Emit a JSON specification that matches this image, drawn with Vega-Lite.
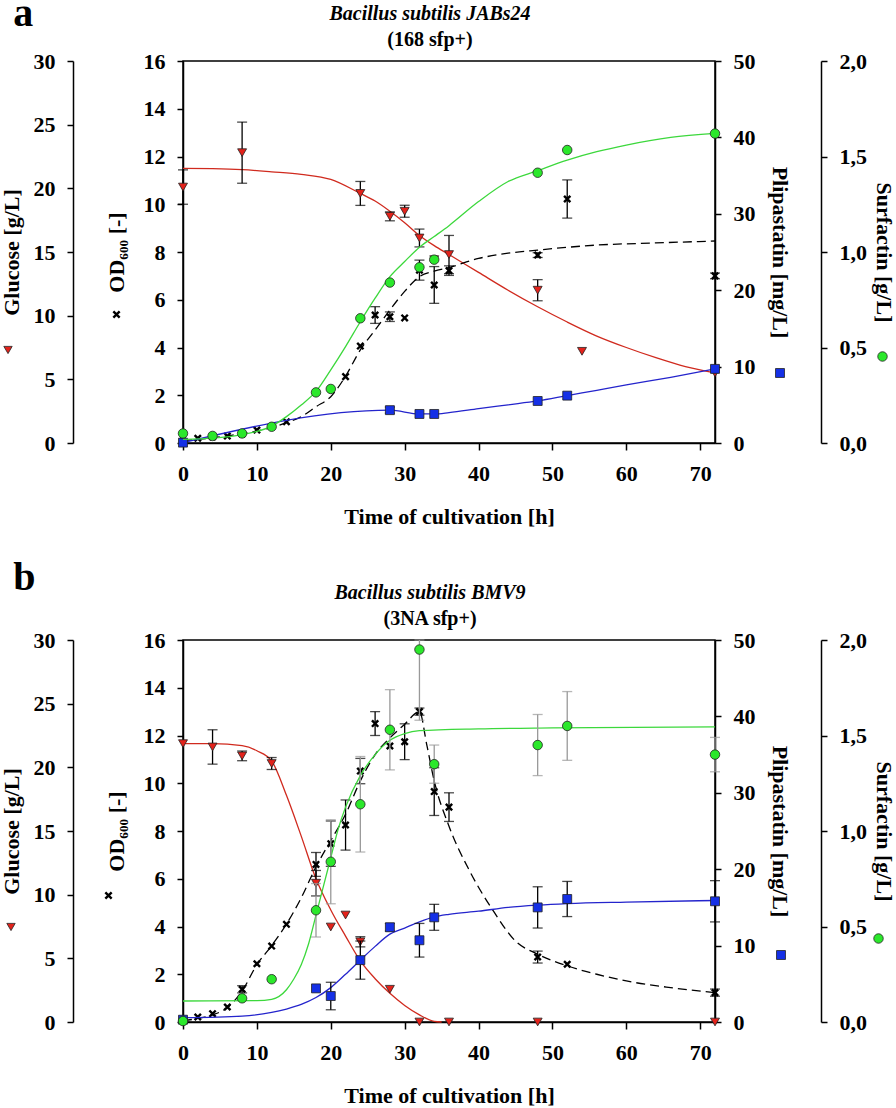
{
"$schema":"https://vega.github.io/schema/vega-lite/v6.json",
"padding":{"left":-1,"right":0,"top":-6,"bottom":0},
"data":{"name":"d"},
"datasets":{"d":[
{"p":"a","s":"G","k":"m","t":0,"v":20.1,"e":1.35},
{"p":"a","s":"G","k":"m","t":8,"v":22.8,"e":2.4},
{"p":"a","s":"G","k":"m","t":24,"v":19.6,"e":0.94},
{"p":"a","s":"G","k":"m","t":28,"v":17.8,"e":0.35},
{"p":"a","s":"G","k":"m","t":30,"v":18.2,"e":0.47},
{"p":"a","s":"G","k":"m","t":32,"v":16.1,"e":0.7},
{"p":"a","s":"G","k":"m","t":34,"v":14.4,"e":null},
{"p":"a","s":"G","k":"m","t":36,"v":14.8,"e":1.5},
{"p":"a","s":"G","k":"m","t":48,"v":12.0,"e":0.83},
{"p":"a","s":"G","k":"m","t":54,"v":7.2,"e":null},
{"p":"a","s":"G","k":"m","t":72,"v":5.5,"e":null},
{"p":"a","s":"O","k":"m","t":0,"v":0.08,"e":null},
{"p":"a","s":"O","k":"m","t":2,"v":0.2,"e":null},
{"p":"a","s":"O","k":"m","t":4,"v":0.25,"e":null},
{"p":"a","s":"O","k":"m","t":6,"v":0.29,"e":null},
{"p":"a","s":"O","k":"m","t":8,"v":0.38,"e":null},
{"p":"a","s":"O","k":"m","t":10,"v":0.54,"e":null},
{"p":"a","s":"O","k":"m","t":14,"v":0.89,"e":null},
{"p":"a","s":"O","k":"m","t":22,"v":2.78,"e":null},
{"p":"a","s":"O","k":"m","t":24,"v":4.06,"e":null},
{"p":"a","s":"O","k":"m","t":26,"v":5.36,"e":0.35},
{"p":"a","s":"O","k":"m","t":28,"v":5.29,"e":0.2},
{"p":"a","s":"O","k":"m","t":30,"v":5.24,"e":null},
{"p":"a","s":"O","k":"m","t":32,"v":7.24,"e":0.42},
{"p":"a","s":"O","k":"m","t":34,"v":6.62,"e":0.77},
{"p":"a","s":"O","k":"m","t":36,"v":7.22,"e":0.2},
{"p":"a","s":"O","k":"m","t":48,"v":7.87,"e":0.1},
{"p":"a","s":"O","k":"m","t":52,"v":10.22,"e":0.8},
{"p":"a","s":"O","k":"m","t":72,"v":7.0,"e":0.12},
{"p":"a","s":"P","k":"m","t":0,"v":0.05,"e":null},
{"p":"a","s":"P","k":"m","t":28,"v":4.3,"e":0.4},
{"p":"a","s":"P","k":"m","t":32,"v":3.8,"e":null},
{"p":"a","s":"P","k":"m","t":34,"v":3.8,"e":null},
{"p":"a","s":"P","k":"m","t":48,"v":5.5,"e":null},
{"p":"a","s":"P","k":"m","t":52,"v":6.2,"e":null},
{"p":"a","s":"P","k":"m","t":72,"v":9.7,"e":null},
{"p":"a","s":"S","k":"m","t":0,"v":0.05,"e":null},
{"p":"a","s":"S","k":"m","t":4,"v":0.037,"e":null},
{"p":"a","s":"S","k":"m","t":8,"v":0.05,"e":null},
{"p":"a","s":"S","k":"m","t":12,"v":0.085,"e":null},
{"p":"a","s":"S","k":"m","t":18,"v":0.265,"e":null},
{"p":"a","s":"S","k":"m","t":20,"v":0.283,"e":null},
{"p":"a","s":"S","k":"m","t":24,"v":0.653,"e":null},
{"p":"a","s":"S","k":"m","t":28,"v":0.84,"e":null},
{"p":"a","s":"S","k":"m","t":32,"v":0.92,"e":null},
{"p":"a","s":"S","k":"m","t":34,"v":0.96,"e":null},
{"p":"a","s":"S","k":"m","t":48,"v":1.415,"e":null},
{"p":"a","s":"S","k":"m","t":52,"v":1.534,"e":null},
{"p":"a","s":"S","k":"m","t":72,"v":1.62,"e":null},
{"p":"a","s":"G","k":"f","t":0,"v":21.56},
{"p":"a","s":"G","k":"f","t":4,"v":21.54},
{"p":"a","s":"G","k":"f","t":8,"v":21.47},
{"p":"a","s":"G","k":"f","t":12,"v":21.3},
{"p":"a","s":"G","k":"f","t":16,"v":21.1},
{"p":"a","s":"G","k":"f","t":20,"v":20.7},
{"p":"a","s":"G","k":"f","t":24,"v":19.6},
{"p":"a","s":"G","k":"f","t":26,"v":19.0},
{"p":"a","s":"G","k":"f","t":28,"v":18.2},
{"p":"a","s":"G","k":"f","t":30,"v":17.3},
{"p":"a","s":"G","k":"f","t":32,"v":16.3},
{"p":"a","s":"G","k":"f","t":34,"v":15.5},
{"p":"a","s":"G","k":"f","t":36,"v":14.8},
{"p":"a","s":"G","k":"f","t":40,"v":13.4},
{"p":"a","s":"G","k":"f","t":44,"v":12.0},
{"p":"a","s":"G","k":"f","t":48,"v":10.7},
{"p":"a","s":"G","k":"f","t":52,"v":9.5},
{"p":"a","s":"G","k":"f","t":56,"v":8.4},
{"p":"a","s":"G","k":"f","t":60,"v":7.5},
{"p":"a","s":"G","k":"f","t":64,"v":6.7},
{"p":"a","s":"G","k":"f","t":68,"v":6.0},
{"p":"a","s":"G","k":"f","t":72,"v":5.5},
{"p":"a","s":"O","k":"f","t":0,"v":0.1},
{"p":"a","s":"O","k":"f","t":2,"v":0.15},
{"p":"a","s":"O","k":"f","t":6,"v":0.3},
{"p":"a","s":"O","k":"f","t":10,"v":0.5},
{"p":"a","s":"O","k":"f","t":12,"v":0.65},
{"p":"a","s":"O","k":"f","t":14,"v":0.85},
{"p":"a","s":"O","k":"f","t":16,"v":1.1},
{"p":"a","s":"O","k":"f","t":18,"v":1.52},
{"p":"a","s":"O","k":"f","t":20,"v":1.94},
{"p":"a","s":"O","k":"f","t":22,"v":2.8},
{"p":"a","s":"O","k":"f","t":24,"v":3.9},
{"p":"a","s":"O","k":"f","t":26,"v":4.73},
{"p":"a","s":"O","k":"f","t":28,"v":5.57},
{"p":"a","s":"O","k":"f","t":30,"v":6.35},
{"p":"a","s":"O","k":"f","t":32,"v":6.97},
{"p":"a","s":"O","k":"f","t":34,"v":7.2},
{"p":"a","s":"O","k":"f","t":36,"v":7.35},
{"p":"a","s":"O","k":"f","t":40,"v":7.73},
{"p":"a","s":"O","k":"f","t":44,"v":7.95},
{"p":"a","s":"O","k":"f","t":48,"v":8.08},
{"p":"a","s":"O","k":"f","t":56,"v":8.29},
{"p":"a","s":"O","k":"f","t":64,"v":8.38},
{"p":"a","s":"O","k":"f","t":72,"v":8.46},
{"p":"a","s":"P","k":"f","t":0,"v":0.05},
{"p":"a","s":"P","k":"f","t":28,"v":4.3},
{"p":"a","s":"P","k":"f","t":32,"v":3.8},
{"p":"a","s":"P","k":"f","t":34,"v":3.8},
{"p":"a","s":"P","k":"f","t":36,"v":3.97},
{"p":"a","s":"P","k":"f","t":40,"v":4.5},
{"p":"a","s":"P","k":"f","t":44,"v":5.0},
{"p":"a","s":"P","k":"f","t":48,"v":5.5},
{"p":"a","s":"P","k":"f","t":52,"v":6.2},
{"p":"a","s":"P","k":"f","t":56,"v":6.9},
{"p":"a","s":"P","k":"f","t":60,"v":7.6},
{"p":"a","s":"P","k":"f","t":66,"v":8.6},
{"p":"a","s":"P","k":"f","t":72,"v":9.7},
{"p":"a","s":"S","k":"f","t":0,"v":0.019},
{"p":"a","s":"S","k":"f","t":4,"v":0.025},
{"p":"a","s":"S","k":"f","t":8,"v":0.044},
{"p":"a","s":"S","k":"f","t":12,"v":0.088},
{"p":"a","s":"S","k":"f","t":14,"v":0.138},
{"p":"a","s":"S","k":"f","t":16,"v":0.199},
{"p":"a","s":"S","k":"f","t":18,"v":0.27},
{"p":"a","s":"S","k":"f","t":20,"v":0.383},
{"p":"a","s":"S","k":"f","t":22,"v":0.505},
{"p":"a","s":"S","k":"f","t":24,"v":0.635},
{"p":"a","s":"S","k":"f","t":26,"v":0.758},
{"p":"a","s":"S","k":"f","t":28,"v":0.871},
{"p":"a","s":"S","k":"f","t":30,"v":0.95},
{"p":"a","s":"S","k":"f","t":32,"v":1.025},
{"p":"a","s":"S","k":"f","t":34,"v":1.081},
{"p":"a","s":"S","k":"f","t":36,"v":1.138},
{"p":"a","s":"S","k":"f","t":40,"v":1.264},
{"p":"a","s":"S","k":"f","t":44,"v":1.369},
{"p":"a","s":"S","k":"f","t":48,"v":1.426},
{"p":"a","s":"S","k":"f","t":52,"v":1.481},
{"p":"a","s":"S","k":"f","t":56,"v":1.525},
{"p":"a","s":"S","k":"f","t":60,"v":1.56},
{"p":"a","s":"S","k":"f","t":66,"v":1.6},
{"p":"a","s":"S","k":"f","t":72,"v":1.621},
{"p":"b","s":"G","k":"m","t":0,"v":21.86,"e":null},
{"p":"b","s":"G","k":"m","t":4,"v":21.6,"e":1.35},
{"p":"b","s":"G","k":"m","t":8,"v":20.9,"e":0.38},
{"p":"b","s":"G","k":"m","t":12,"v":20.3,"e":0.47},
{"p":"b","s":"G","k":"m","t":18,"v":10.9,"e":1.0},
{"p":"b","s":"G","k":"m","t":20,"v":7.46,"e":null},
{"p":"b","s":"G","k":"m","t":22,"v":8.4,"e":null},
{"p":"b","s":"G","k":"m","t":24,"v":6.3,"e":0.4},
{"p":"b","s":"G","k":"m","t":28,"v":2.57,"e":null},
{"p":"b","s":"G","k":"m","t":32,"v":0,"e":null},
{"p":"b","s":"G","k":"m","t":36,"v":0,"e":null},
{"p":"b","s":"G","k":"m","t":48,"v":0,"e":null},
{"p":"b","s":"G","k":"m","t":72,"v":0,"e":null},
{"p":"b","s":"O","k":"m","t":0,"v":0.05,"e":null},
{"p":"b","s":"O","k":"m","t":2,"v":0.21,"e":null},
{"p":"b","s":"O","k":"m","t":4,"v":0.35,"e":null},
{"p":"b","s":"O","k":"m","t":6,"v":0.63,"e":null},
{"p":"b","s":"O","k":"m","t":8,"v":1.37,"e":0.15},
{"p":"b","s":"O","k":"m","t":10,"v":2.44,"e":null},
{"p":"b","s":"O","k":"m","t":12,"v":3.18,"e":null},
{"p":"b","s":"O","k":"m","t":14,"v":4.09,"e":null},
{"p":"b","s":"O","k":"m","t":18,"v":6.6,"e":0.5},
{"p":"b","s":"O","k":"m","t":20,"v":7.47,"e":0.95},
{"p":"b","s":"O","k":"m","t":22,"v":8.25,"e":1.05},
{"p":"b","s":"O","k":"m","t":24,"v":10.51,"e":0.53},
{"p":"b","s":"O","k":"m","t":26,"v":12.5,"e":0.5},
{"p":"b","s":"O","k":"m","t":28,"v":11.56,"e":null},
{"p":"b","s":"O","k":"m","t":30,"v":11.74,"e":0.75},
{"p":"b","s":"O","k":"m","t":32,"v":13.0,"e":0.15},
{"p":"b","s":"O","k":"m","t":34,"v":9.65,"e":1.0},
{"p":"b","s":"O","k":"m","t":36,"v":9.0,"e":0.6},
{"p":"b","s":"O","k":"m","t":48,"v":2.72,"e":0.25},
{"p":"b","s":"O","k":"m","t":52,"v":2.42,"e":null},
{"p":"b","s":"O","k":"m","t":72,"v":1.23,"e":0.15},
{"p":"b","s":"P","k":"m","t":0,"v":0.3,"e":null},
{"p":"b","s":"P","k":"m","t":18,"v":4.4,"e":null},
{"p":"b","s":"P","k":"m","t":20,"v":3.4,"e":1.8},
{"p":"b","s":"P","k":"m","t":24,"v":8.1,"e":2.5},
{"p":"b","s":"P","k":"m","t":28,"v":12.4,"e":0.5},
{"p":"b","s":"P","k":"m","t":32,"v":10.7,"e":2.2},
{"p":"b","s":"P","k":"m","t":34,"v":13.7,"e":1.7},
{"p":"b","s":"P","k":"m","t":48,"v":15.0,"e":2.7},
{"p":"b","s":"P","k":"m","t":52,"v":16.1,"e":2.3},
{"p":"b","s":"P","k":"m","t":72,"v":15.8,"e":2.7},
{"p":"b","s":"S","k":"m","t":0,"v":0.005,"e":null},
{"p":"b","s":"S","k":"m","t":8,"v":0.124,"e":null},
{"p":"b","s":"S","k":"m","t":12,"v":0.224,"e":null},
{"p":"b","s":"S","k":"m","t":18,"v":0.585,"e":0.14},
{"p":"b","s":"S","k":"m","t":20,"v":0.839,"e":0.22},
{"p":"b","s":"S","k":"m","t":24,"v":1.14,"e":0.25},
{"p":"b","s":"S","k":"m","t":28,"v":1.53,"e":0.21},
{"p":"b","s":"S","k":"m","t":32,"v":1.95,"e":0.37},
{"p":"b","s":"S","k":"m","t":34,"v":1.35,"e":0.1},
{"p":"b","s":"S","k":"m","t":48,"v":1.45,"e":0.16},
{"p":"b","s":"S","k":"m","t":52,"v":1.55,"e":0.18},
{"p":"b","s":"S","k":"m","t":72,"v":1.40,"e":0.09},
{"p":"b","s":"G","k":"f","t":0,"v":21.86},
{"p":"b","s":"G","k":"f","t":4,"v":21.86},
{"p":"b","s":"G","k":"f","t":8,"v":21.7},
{"p":"b","s":"G","k":"f","t":10,"v":21.3},
{"p":"b","s":"G","k":"f","t":12,"v":20.5},
{"p":"b","s":"G","k":"f","t":14,"v":17.8},
{"p":"b","s":"G","k":"f","t":16,"v":14.6},
{"p":"b","s":"G","k":"f","t":18,"v":11.25},
{"p":"b","s":"G","k":"f","t":20,"v":8.8},
{"p":"b","s":"G","k":"f","t":22,"v":6.75},
{"p":"b","s":"G","k":"f","t":24,"v":4.8},
{"p":"b","s":"G","k":"f","t":26,"v":3.4},
{"p":"b","s":"G","k":"f","t":28,"v":2.25},
{"p":"b","s":"G","k":"f","t":30,"v":1.3},
{"p":"b","s":"G","k":"f","t":32,"v":0.56},
{"p":"b","s":"G","k":"f","t":34,"v":0.05},
{"p":"b","s":"G","k":"f","t":35,"v":0},
{"p":"b","s":"O","k":"f","t":0,"v":0.05},
{"p":"b","s":"O","k":"f","t":2,"v":0.15},
{"p":"b","s":"O","k":"f","t":4,"v":0.3},
{"p":"b","s":"O","k":"f","t":6,"v":0.6},
{"p":"b","s":"O","k":"f","t":8,"v":1.3},
{"p":"b","s":"O","k":"f","t":10,"v":2.4},
{"p":"b","s":"O","k":"f","t":12,"v":3.2},
{"p":"b","s":"O","k":"f","t":14,"v":4.1},
{"p":"b","s":"O","k":"f","t":16,"v":5.2},
{"p":"b","s":"O","k":"f","t":18,"v":6.5},
{"p":"b","s":"O","k":"f","t":20,"v":7.6},
{"p":"b","s":"O","k":"f","t":22,"v":8.7},
{"p":"b","s":"O","k":"f","t":24,"v":10.1},
{"p":"b","s":"O","k":"f","t":26,"v":11.2},
{"p":"b","s":"O","k":"f","t":28,"v":11.9},
{"p":"b","s":"O","k":"f","t":30,"v":12.47},
{"p":"b","s":"O","k":"f","t":32,"v":13.0},
{"p":"b","s":"O","k":"f","t":33,"v":11.6},
{"p":"b","s":"O","k":"f","t":34,"v":10.1},
{"p":"b","s":"O","k":"f","t":36,"v":8.2},
{"p":"b","s":"O","k":"f","t":38.8,"v":6.32},
{"p":"b","s":"O","k":"f","t":42,"v":4.65},
{"p":"b","s":"O","k":"f","t":45,"v":3.39},
{"p":"b","s":"O","k":"f","t":48,"v":2.84},
{"p":"b","s":"O","k":"f","t":52,"v":2.35},
{"p":"b","s":"O","k":"f","t":56,"v":2.0},
{"p":"b","s":"O","k":"f","t":60,"v":1.72},
{"p":"b","s":"O","k":"f","t":66,"v":1.44},
{"p":"b","s":"O","k":"f","t":72,"v":1.23},
{"p":"b","s":"P","k":"f","t":0,"v":0.56},
{"p":"b","s":"P","k":"f","t":8,"v":0.78},
{"p":"b","s":"P","k":"f","t":12,"v":1.25},
{"p":"b","s":"P","k":"f","t":14,"v":1.7},
{"p":"b","s":"P","k":"f","t":16,"v":2.3},
{"p":"b","s":"P","k":"f","t":18,"v":3.2},
{"p":"b","s":"P","k":"f","t":20,"v":4.5},
{"p":"b","s":"P","k":"f","t":22,"v":6.25},
{"p":"b","s":"P","k":"f","t":24,"v":8.1},
{"p":"b","s":"P","k":"f","t":26,"v":9.9},
{"p":"b","s":"P","k":"f","t":28,"v":11.5},
{"p":"b","s":"P","k":"f","t":30,"v":12.3},
{"p":"b","s":"P","k":"f","t":32,"v":13.1},
{"p":"b","s":"P","k":"f","t":34,"v":13.75},
{"p":"b","s":"P","k":"f","t":36,"v":14.1},
{"p":"b","s":"P","k":"f","t":40,"v":14.5},
{"p":"b","s":"P","k":"f","t":44,"v":15.0},
{"p":"b","s":"P","k":"f","t":48,"v":15.3},
{"p":"b","s":"P","k":"f","t":52,"v":15.5},
{"p":"b","s":"P","k":"f","t":60,"v":15.7},
{"p":"b","s":"P","k":"f","t":72,"v":15.9},
{"p":"b","s":"S","k":"f","t":0,"v":0.11},
{"p":"b","s":"S","k":"f","t":10,"v":0.112},
{"p":"b","s":"S","k":"f","t":12,"v":0.119},
{"p":"b","s":"S","k":"f","t":14,"v":0.169},
{"p":"b","s":"S","k":"f","t":15,"v":0.225},
{"p":"b","s":"S","k":"f","t":16,"v":0.3},
{"p":"b","s":"S","k":"f","t":17,"v":0.41},
{"p":"b","s":"S","k":"f","t":18,"v":0.56},
{"p":"b","s":"S","k":"f","t":19,"v":0.71},
{"p":"b","s":"S","k":"f","t":20,"v":0.86},
{"p":"b","s":"S","k":"f","t":21,"v":1.01},
{"p":"b","s":"S","k":"f","t":22,"v":1.125},
{"p":"b","s":"S","k":"f","t":24,"v":1.29},
{"p":"b","s":"S","k":"f","t":26,"v":1.4},
{"p":"b","s":"S","k":"f","t":28,"v":1.475},
{"p":"b","s":"S","k":"f","t":30,"v":1.51},
{"p":"b","s":"S","k":"f","t":32,"v":1.525},
{"p":"b","s":"S","k":"f","t":40,"v":1.535},
{"p":"b","s":"S","k":"f","t":50,"v":1.54},
{"p":"b","s":"S","k":"f","t":72,"v":1.545}
]},
"config":{
"font":"Liberation Serif",
"view":{"stroke":"black","strokeWidth":1.5},
"axis":{"labelFont":"Liberation Serif","titleFont":"Liberation Serif","labelFontSize":22,"titleFontSize":22,"labelFontWeight":"bold","titleFontWeight":"bold","labelColor":"black","titleColor":"black","domainColor":"black","tickColor":"black","domainWidth":1.5,"tickWidth":1.5,"grid":false},
"title":{"font":"Liberation Serif","color":"black","subtitleColor":"black","subtitleFont":"Liberation Serif"},
"legend":{"title":null,"labelOffset":0,"padding":0,"symbolStrokeColor":"#222"}
},
"spacing":30,
"vconcat":[
{"title":{"text":"a","anchor":"start","fontSize":40,"fontWeight":"bold","dx":14,"dy":31,"offset":0},
 "vconcat":[{
 "width":532,"height":382,
 "title":{"text":"Bacillus subtilis JABs24","subtitle":"(168 sfp+)","fontSize":20,"fontWeight":"bold","fontStyle":"italic","subtitleFontSize":20,"subtitleFontWeight":"bold","subtitlePadding":6,"anchor":"middle","dx":-19,"offset":0},
 "resolve":{"scale":{"y":"independent","color":"independent"},"legend":{"color":"independent"}},
 "layer":[
  {"encoding":{
    "x":{"field":"t","type":"quantitative","scale":{"domain":[0,72],"nice":false,"zero":false},"axis":{"title":"Time of cultivation [h]","values":[0,10,20,30,40,50,60,70],"tickSize":7,"labelPadding":13,"titlePadding":22,"labelFlush":false}},
    "y":{"field":"v","type":"quantitative","scale":{"domain":[0,30],"nice":false,"zero":false},"axis":{"title":"Glucose [g/L]","orient":"left","offset":110,"values":[0,5,10,15,20,25,30],"tickSize":6,"labelPadding":12,"titlePadding":10}}},
   "layer":[
    {"transform":[{"filter":"datum.p=='a' && datum.s=='G' && datum.k=='f'"}],"mark":{"type":"line","color":"#d02a1e","strokeWidth":1.3,"interpolate":"monotone"},"encoding":{}},
    {"transform":[{"filter":"datum.p=='a' && datum.s=='G' && datum.k=='m' && datum.e>0"}],"mark":{"type":"errorbar","ticks":true,"size":10,"thickness":1.3,"color":"black"},"encoding":{"yError":{"field":"e"}}},
    {"transform":[{"filter":"datum.p=='a' && datum.s=='G' && datum.k=='m'"}],"mark":{"type":"point","shape":"triangle-down","filled":true,"size":80,"stroke":"#222","strokeWidth":0.8,"opacity":1},
     "encoding":{"color":{"datum":"Glucose","scale":{"range":["#e3221b"]},"legend":{"orient":"none","legendX":-180,"legendY":284,"labelExpr":"''","labelFontSize":1,"symbolType":"triangle-down","symbolSize":70,"symbolStrokeWidth":0.8}}}}
   ]},
  {"encoding":{
    "x":{"field":"t","type":"quantitative","scale":{"domain":[0,72],"nice":false,"zero":false},"axis":{"title":"Time of cultivation [h]","values":[0,10,20,30,40,50,60,70],"tickSize":7,"labelPadding":13,"titlePadding":22,"labelFlush":false}},
    "y":{"field":"v","type":"quantitative","scale":{"domain":[0,16],"nice":false,"zero":false},"axis":{"title":"OD₆₀₀ [-]","orient":"left","offset":0,"values":[0,2,4,6,8,10,12,14,16],"tickSize":6,"labelPadding":12,"titlePadding":15}}},
   "layer":[
    {"transform":[{"filter":"datum.p=='a' && datum.s=='O' && datum.k=='f'"}],"mark":{"type":"line","color":"black","strokeWidth":1.3,"strokeDash":[9,5],"interpolate":"monotone"},"encoding":{}},
    {"transform":[{"filter":"datum.p=='a' && datum.s=='O' && datum.k=='m' && datum.e>0"}],"mark":{"type":"errorbar","ticks":true,"size":10,"thickness":1.3,"color":"black"},"encoding":{"yError":{"field":"e"}}},
    {"transform":[{"filter":"datum.p=='a' && datum.s=='O' && datum.k=='m'"}],"mark":{"type":"point","shape":"M-1,-1L1,1M-1,1L1,-1","filled":false,"size":40,"strokeWidth":2.4,"opacity":1},
     "encoding":{"color":{"datum":"OD","scale":{"range":["black"]},"legend":{"orient":"none","legendX":-71,"legendY":249,"labelExpr":"''","labelFontSize":1,"symbolType":"M-1,-1L1,1M-1,1L1,-1","symbolSize":40,"symbolStrokeWidth":2.4,"symbolStrokeColor":"black"}}}}
   ]},
  {"encoding":{
    "x":{"field":"t","type":"quantitative","scale":{"domain":[0,72],"nice":false,"zero":false},"axis":{"title":"Time of cultivation [h]","values":[0,10,20,30,40,50,60,70],"tickSize":7,"labelPadding":13,"titlePadding":22,"labelFlush":false}},
    "y":{"field":"v","type":"quantitative","scale":{"domain":[0,50],"nice":false,"zero":false},"axis":{"title":"Plipastatin [mg/L]","orient":"right","offset":0,"values":[0,10,20,30,40,50],"tickSize":6,"labelPadding":12,"titlePadding":12}}},
   "layer":[
    {"transform":[{"filter":"datum.p=='a' && datum.s=='P' && datum.k=='f'"}],"mark":{"type":"line","color":"#2424cc","strokeWidth":1.3,"interpolate":"monotone"},"encoding":{}},
    {"transform":[{"filter":"datum.p=='a' && datum.s=='P' && datum.k=='m' && datum.e>0"}],"mark":{"type":"errorbar","ticks":true,"size":10,"thickness":1.3,"color":"black"},"encoding":{"yError":{"field":"e"}}},
    {"transform":[{"filter":"datum.p=='a' && datum.s=='P' && datum.k=='m'"}],"mark":{"type":"point","shape":"square","filled":true,"size":80,"stroke":"#222","strokeWidth":0.8,"opacity":1},
     "encoding":{"color":{"datum":"Plipastatin","scale":{"range":["#1530e6"]},"legend":{"orient":"none","legendX":592,"legendY":307,"labelExpr":"''","labelFontSize":1,"symbolType":"square","symbolSize":80,"symbolStrokeWidth":0.8}}}}
   ]},
  {"encoding":{
    "x":{"field":"t","type":"quantitative","scale":{"domain":[0,72],"nice":false,"zero":false},"axis":{"title":"Time of cultivation [h]","values":[0,10,20,30,40,50,60,70],"tickSize":7,"labelPadding":13,"titlePadding":22,"labelFlush":false}},
    "y":{"field":"v","type":"quantitative","scale":{"domain":[0,2],"nice":false,"zero":false,"clamp":true},"axis":{"title":"Surfactin [g/L]","orient":"right","offset":106,"values":[0,0.5,1,1.5,2],"labelExpr":"replace(format(datum.value,'.1f'),'.',',')","tickSize":6,"labelPadding":12,"titlePadding":5}}},
   "layer":[
    {"transform":[{"filter":"datum.p=='a' && datum.s=='S' && datum.k=='f'"}],"mark":{"type":"line","color":"#3cd83c","strokeWidth":1.3,"interpolate":"monotone"},"encoding":{}},
    {"transform":[{"filter":"datum.p=='a' && datum.s=='S' && datum.k=='m' && datum.e>0"}],"mark":{"type":"errorbar","ticks":true,"size":10,"thickness":1.3,"color":"#999999"},"encoding":{"yError":{"field":"e"}}},
    {"transform":[{"filter":"datum.p=='a' && datum.s=='S' && datum.k=='m'"}],"mark":{"type":"point","shape":"circle","filled":true,"size":90,"stroke":"#222","strokeWidth":0.8,"opacity":1},
     "encoding":{"color":{"datum":"Surfactin","scale":{"range":["#2be82b"]},"legend":{"orient":"none","legendX":694,"legendY":290,"labelExpr":"''","labelFontSize":1,"symbolType":"circle","symbolSize":90,"symbolStrokeWidth":0.8}}}}
   ]}
 ]}]},
{"title":{"text":"b","anchor":"start","fontSize":40,"fontWeight":"bold","dx":14,"dy":16,"offset":0},
 "vconcat":[{
 "width":532,"height":382,
 "title":{"text":"Bacillus subtilis BMV9","subtitle":"(3NA sfp+)","fontSize":20,"fontWeight":"bold","fontStyle":"italic","subtitleFontSize":20,"subtitleFontWeight":"bold","subtitlePadding":6,"anchor":"middle","dx":-19,"offset":0},
 "resolve":{"scale":{"y":"independent","color":"independent"},"legend":{"color":"independent"}},
 "layer":[
  {"encoding":{
    "x":{"field":"t","type":"quantitative","scale":{"domain":[0,72],"nice":false,"zero":false},"axis":{"title":"Time of cultivation [h]","values":[0,10,20,30,40,50,60,70],"tickSize":7,"labelPadding":13,"titlePadding":22,"labelFlush":false}},
    "y":{"field":"v","type":"quantitative","scale":{"domain":[0,30],"nice":false,"zero":false},"axis":{"title":"Glucose [g/L]","orient":"left","offset":110,"values":[0,5,10,15,20,25,30],"tickSize":6,"labelPadding":12,"titlePadding":10}}},
   "layer":[
    {"transform":[{"filter":"datum.p=='b' && datum.s=='G' && datum.k=='f'"}],"mark":{"type":"line","color":"#d02a1e","strokeWidth":1.3,"interpolate":"monotone"},"encoding":{}},
    {"transform":[{"filter":"datum.p=='b' && datum.s=='G' && datum.k=='m' && datum.e>0"}],"mark":{"type":"errorbar","ticks":true,"size":10,"thickness":1.3,"color":"black"},"encoding":{"yError":{"field":"e"}}},
    {"transform":[{"filter":"datum.p=='b' && datum.s=='G' && datum.k=='m'"}],"mark":{"type":"point","shape":"triangle-down","filled":true,"size":80,"stroke":"#222","strokeWidth":0.8,"opacity":1},
     "encoding":{"color":{"datum":"Glucose","scale":{"range":["#e3221b"]},"legend":{"orient":"none","legendX":-177,"legendY":282,"labelExpr":"''","labelFontSize":1,"symbolType":"triangle-down","symbolSize":70,"symbolStrokeWidth":0.8}}}}
   ]},
  {"encoding":{
    "x":{"field":"t","type":"quantitative","scale":{"domain":[0,72],"nice":false,"zero":false},"axis":{"title":"Time of cultivation [h]","values":[0,10,20,30,40,50,60,70],"tickSize":7,"labelPadding":13,"titlePadding":22,"labelFlush":false}},
    "y":{"field":"v","type":"quantitative","scale":{"domain":[0,16],"nice":false,"zero":false},"axis":{"title":"OD₆₀₀ [-]","orient":"left","offset":0,"values":[0,2,4,6,8,10,12,14,16],"tickSize":6,"labelPadding":12,"titlePadding":15}}},
   "layer":[
    {"transform":[{"filter":"datum.p=='b' && datum.s=='O' && datum.k=='f'"}],"mark":{"type":"line","color":"black","strokeWidth":1.3,"strokeDash":[9,5],"interpolate":"monotone"},"encoding":{}},
    {"transform":[{"filter":"datum.p=='b' && datum.s=='O' && datum.k=='m' && datum.e>0"}],"mark":{"type":"errorbar","ticks":true,"size":10,"thickness":1.3,"color":"black"},"encoding":{"yError":{"field":"e"}}},
    {"transform":[{"filter":"datum.p=='b' && datum.s=='O' && datum.k=='m'"}],"mark":{"type":"point","shape":"M-1,-1L1,1M-1,1L1,-1","filled":false,"size":40,"strokeWidth":2.4,"opacity":1},
     "encoding":{"color":{"datum":"OD","scale":{"range":["black"]},"legend":{"orient":"none","legendX":-79,"legendY":251,"labelExpr":"''","labelFontSize":1,"symbolType":"M-1,-1L1,1M-1,1L1,-1","symbolSize":40,"symbolStrokeWidth":2.4,"symbolStrokeColor":"black"}}}}
   ]},
  {"encoding":{
    "x":{"field":"t","type":"quantitative","scale":{"domain":[0,72],"nice":false,"zero":false},"axis":{"title":"Time of cultivation [h]","values":[0,10,20,30,40,50,60,70],"tickSize":7,"labelPadding":13,"titlePadding":22,"labelFlush":false}},
    "y":{"field":"v","type":"quantitative","scale":{"domain":[0,50],"nice":false,"zero":false},"axis":{"title":"Plipastatin [mg/L]","orient":"right","offset":0,"values":[0,10,20,30,40,50],"tickSize":6,"labelPadding":12,"titlePadding":12}}},
   "layer":[
    {"transform":[{"filter":"datum.p=='b' && datum.s=='P' && datum.k=='f'"}],"mark":{"type":"line","color":"#2424cc","strokeWidth":1.3,"interpolate":"monotone"},"encoding":{}},
    {"transform":[{"filter":"datum.p=='b' && datum.s=='P' && datum.k=='m' && datum.e>0"}],"mark":{"type":"errorbar","ticks":true,"size":10,"thickness":1.3,"color":"black"},"encoding":{"yError":{"field":"e"}}},
    {"transform":[{"filter":"datum.p=='b' && datum.s=='P' && datum.k=='m'"}],"mark":{"type":"point","shape":"square","filled":true,"size":80,"stroke":"#222","strokeWidth":0.8,"opacity":1},
     "encoding":{"color":{"datum":"Plipastatin","scale":{"range":["#1530e6"]},"legend":{"orient":"none","legendX":593,"legendY":310,"labelExpr":"''","labelFontSize":1,"symbolType":"square","symbolSize":80,"symbolStrokeWidth":0.8}}}}
   ]},
  {"encoding":{
    "x":{"field":"t","type":"quantitative","scale":{"domain":[0,72],"nice":false,"zero":false},"axis":{"title":"Time of cultivation [h]","values":[0,10,20,30,40,50,60,70],"tickSize":7,"labelPadding":13,"titlePadding":22,"labelFlush":false}},
    "y":{"field":"v","type":"quantitative","scale":{"domain":[0,2],"nice":false,"zero":false,"clamp":true},"axis":{"title":"Surfactin [g/L]","orient":"right","offset":106,"values":[0,0.5,1,1.5,2],"labelExpr":"replace(format(datum.value,'.1f'),'.',',')","tickSize":6,"labelPadding":12,"titlePadding":5}}},
   "layer":[
    {"transform":[{"filter":"datum.p=='b' && datum.s=='S' && datum.k=='f'"}],"mark":{"type":"line","color":"#3cd83c","strokeWidth":1.3,"interpolate":"monotone"},"encoding":{}},
    {"transform":[{"filter":"datum.p=='b' && datum.s=='S' && datum.k=='m' && datum.e>0"}],"mark":{"type":"errorbar","ticks":true,"size":10,"thickness":1.3,"color":"#999999"},"encoding":{"yError":{"field":"e"}}},
    {"transform":[{"filter":"datum.p=='b' && datum.s=='S' && datum.k=='m'"}],"mark":{"type":"point","shape":"circle","filled":true,"size":90,"stroke":"#222","strokeWidth":0.8,"opacity":1},
     "encoding":{"color":{"datum":"Surfactin","scale":{"range":["#2be82b"]},"legend":{"orient":"none","legendX":690,"legendY":293,"labelExpr":"''","labelFontSize":1,"symbolType":"circle","symbolSize":90,"symbolStrokeWidth":0.8}}}}
   ]}
 ]}]}
]
}
